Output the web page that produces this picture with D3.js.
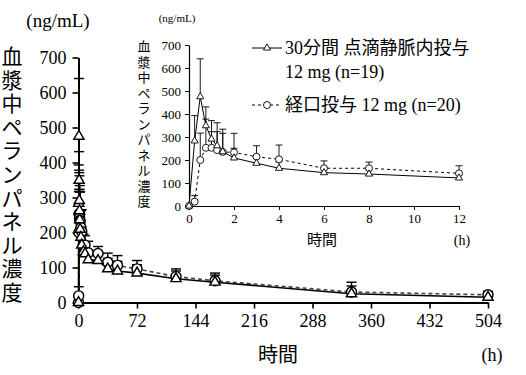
<!DOCTYPE html>
<html>
<head>
<meta charset="utf-8">
<script src="https://cdn.jsdelivr.net/npm/d3@7"></script>
<style>
  body { margin: 0; background: #fff; }
  svg text { font-family: "Liberation Serif", "Noto Sans CJK JP", serif; fill: #000; }
</style>
</head>
<body>
<svg id="chart" width="526" height="375"></svg>
<script>
// sampling times (h)
const times = [0, 0.25, 0.5, 0.75, 1, 1.25, 1.5, 2, 3, 4, 6, 8, 12, 24, 36, 48, 72, 120, 168, 336, 504];
// 30 min IV infusion 12 mg (n=19): mean and SD
const ivMean = [0, 283, 475, 349, 291, 262, 236, 209, 186, 164, 145, 139, 122, 120, 96, 90, 84, 68, 58, 25, 15];
const ivSd   = [0, 110, 165, 82, 80, 100, 98, 42, 30, 28, 22, 20, 18, 25, 30, 28, 24, 22, 20, 22, 12];
// oral 12 mg (n=20): mean and SD
const poMean = [0, 19, 200, 253, 253, 243, 235, 233, 214, 203, 164, 164, 142, 140, 115, 106, 96, 74, 62, 30, 22];
const poSd   = [0, 26, 117, 125, 70, 80, 81, 83, 48, 62, 32, 27, 33, 20, 26, 28, 24, 22, 22, 28, 10];

const mainXTicks = [0, 72, 144, 216, 288, 360, 432, 504];
const yTicks = [0, 100, 200, 300, 400, 500, 600, 700];
const insetXTicks = [0, 2, 4, 6, 8, 10, 12];
const yLabelChars = "血漿中ペランパネル濃度".split("");

const rows = times.map((t, i) => ({ t: t, iv: ivMean[i], ivSd: ivSd[i], po: poMean[i], poSd: poSd[i] }));

const serif = '"Liberation Serif", serif';
const svg = d3.select("#chart");

function drawPanel(opt) {
  const g = svg.append("g");
  const x = d3.scaleLinear().domain(opt.xDomain).range(opt.xRange);
  const y = d3.scaleLinear().domain([0, 700]).range(opt.yRange);
  const data = rows.filter(d => d.t <= opt.xDomain[1]);

  // axes
  g.append("g")
    .attr("transform", `translate(0,${opt.yRange[0]})`)
    .call(d3.axisBottom(x).tickValues(opt.xTicks).tickSize(opt.tick).tickSizeOuter(0).tickPadding(opt.pad))
    .call(a => a.select(".domain").attr("stroke-width", opt.axisW))
    .call(a => a.selectAll(".tick line").attr("stroke-width", opt.axisW * 0.8))
    .call(a => a.selectAll("text").style("font-family", serif).style("font-size", opt.font + "px"));
  g.append("g")
    .attr("transform", `translate(${opt.xRange[0]},0)`)
    .call(d3.axisLeft(y).tickValues(yTicks).tickSize(opt.tick).tickSizeOuter(0).tickPadding(opt.pad))
    .call(a => a.select(".domain").attr("stroke-width", opt.axisW))
    .call(a => a.selectAll(".tick line").attr("stroke-width", opt.axisW * 0.8))
    .call(a => a.selectAll("text").style("font-family", serif).style("font-size", opt.font + "px"));

  // error bars (upper only)
  [["iv", "ivSd"], ["po", "poSd"]].forEach(([k, s]) => {
    const eb = g.append("g").attr("stroke", "#000").attr("stroke-width", opt.lineW * 0.9);
    data.filter(d => d[s] > 0).forEach(d => {
      const cx = x(d.t);
      eb.append("line").attr("x1", cx).attr("x2", cx).attr("y1", y(d[k])).attr("y2", y(d[k] + d[s]));
      eb.append("line").attr("x1", cx - opt.cap).attr("x2", cx + opt.cap).attr("y1", y(d[k] + d[s])).attr("y2", y(d[k] + d[s]));
    });
  });

  // lines
  g.append("path").datum(data)
    .attr("fill", "none").attr("stroke", opt.dashColor).attr("stroke-width", opt.lineW)
    .attr("stroke-dasharray", opt.dash)
    .attr("d", d3.line().x(d => x(d.t)).y(d => y(d.po)));
  g.append("path").datum(data)
    .attr("fill", "none").attr("stroke", "#000").attr("stroke-width", opt.lineW)
    .attr("d", d3.line().x(d => x(d.t)).y(d => y(d.iv)));

  // markers
  g.selectAll(".po").data(data).join("circle")
    .attr("cx", d => x(d.t)).attr("cy", d => y(d.po)).attr("r", opt.r)
    .attr("fill", "#fff").attr("stroke", "#000").attr("stroke-width", opt.lineW * 0.9);
  const tri = d3.symbol().type(d3.symbolTriangle).size(opt.triSize);
  g.selectAll(".iv").data(data).join("path")
    .attr("d", tri).attr("transform", d => `translate(${x(d.t)},${y(d.iv)})`)
    .attr("fill", "#fff").attr("stroke", "#000").attr("stroke-width", opt.lineW * 0.9);
  return g;
}

// main chart
drawPanel({
  xDomain: [0, 504], xRange: [78.5, 488], yRange: [302.5, 57.5],
  xTicks: mainXTicks, tick: 6, pad: 6, font: 18, axisW: 2,
  lineW: 1.6, dash: "4,3", dashColor: "#444", cap: 5, r: 5, triSize: 45
});

// inset chart
drawPanel({
  xDomain: [0, 12], xRange: [189, 459], yRange: [206, 45],
  xTicks: insetXTicks, tick: 4, pad: 4, font: 13, axisW: 1.2,
  lineW: 1, dash: "3,3", dashColor: "#000", cap: 3.5, r: 3.5, triSize: 22
});

// main axis titles
svg.append("text").attr("x", 58).attr("y", 27).attr("text-anchor", "middle")
  .attr("font-size", 19).text("(ng/mL)");
svg.append("g").selectAll("text").data(yLabelChars).join("text")
  .attr("x", 12).attr("y", (d, i) => 64 + i * 23.6).attr("text-anchor", "middle")
  .attr("font-size", 21).text(d => d);
svg.append("text").attr("x", 278).attr("y", 362).attr("text-anchor", "middle")
  .attr("font-size", 20).text("時間");
svg.append("text").attr("x", 492).attr("y", 361).attr("text-anchor", "middle")
  .attr("font-size", 18).text("(h)");

// inset axis titles
svg.append("text").attr("x", 177).attr("y", 22).attr("text-anchor", "middle")
  .attr("font-size", 11).text("(ng/mL)");
svg.append("g").selectAll("text").data(yLabelChars).join("text")
  .attr("x", 144).attr("y", (d, i) => 51 + i * 15.5).attr("text-anchor", "middle")
  .attr("font-size", 13).text(d => d);
svg.append("text").attr("x", 322).attr("y", 245).attr("text-anchor", "middle")
  .attr("font-size", 15).text("時間");
svg.append("text").attr("x", 462).attr("y", 245).attr("text-anchor", "middle")
  .attr("font-size", 14).text("(h)");

// legend
const leg = svg.append("g");
leg.append("line").attr("x1", 252).attr("x2", 282).attr("y1", 48).attr("y2", 48)
  .attr("stroke", "#000").attr("stroke-width", 1);
leg.append("path").attr("d", d3.symbol().type(d3.symbolTriangle).size(22))
  .attr("transform", "translate(267,48)").attr("fill", "#fff").attr("stroke", "#000").attr("stroke-width", 0.9);
leg.append("line").attr("x1", 252).attr("x2", 282).attr("y1", 105).attr("y2", 105)
  .attr("stroke", "#000").attr("stroke-width", 1).attr("stroke-dasharray", "3,3");
leg.append("circle").attr("cx", 267).attr("cy", 105).attr("r", 3.5)
  .attr("fill", "#fff").attr("stroke", "#000").attr("stroke-width", 0.9);
leg.append("text").attr("x", 285).attr("y", 54).attr("font-size", 18).text("30分間 点滴静脈内投与");
leg.append("text").attr("x", 285).attr("y", 78).attr("font-size", 18).text("12 mg (n=19)");
leg.append("text").attr("x", 285).attr("y", 111).attr("font-size", 18).text("経口投与 12 mg (n=20)");
</script>
</body>
</html>
